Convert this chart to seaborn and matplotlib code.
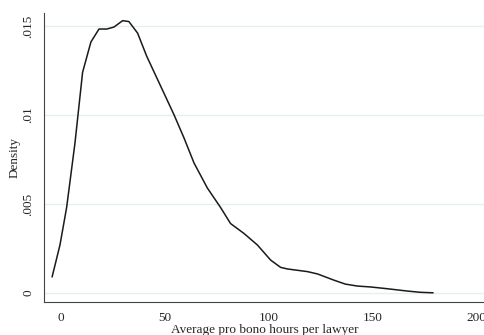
import numpy as np
import pandas as pd
import matplotlib
matplotlib.use("Agg")
import matplotlib.pyplot as plt
import seaborn as sns

# values
hours = [-4.3, -0.5, 2.7, 6.7, 10.4, 14.4, 18.3, 22.1, 25.5, 29.7, 32.7, 36.9,
         41.3, 48.1, 54.5, 59.3, 64.1, 70.5, 76.9, 81.7, 88.1, 94.6, 101.0,
         105.8, 109.1, 118.8, 123.6, 131.3, 137.0, 142.8, 149.0, 157.2, 166.8,
         173.0, 179.3]
density = [0.0009, 0.0027, 0.0048, 0.0084, 0.0124, 0.0141, 0.01483, 0.01483,
           0.01494, 0.0153, 0.01525, 0.0146, 0.0133, 0.0116, 0.0100, 0.0087,
           0.0073, 0.0059, 0.0048, 0.0039, 0.00335, 0.0027, 0.00185, 0.00144,
           0.00135, 0.0012, 0.00107, 0.00073, 0.0005, 0.00039, 0.00034,
           0.00024, 0.00011, 0.00004, 0.00001]
xticks = [0, 50, 100, 150, 200]
yticks = [0, 0.005, 0.01, 0.015]
ytick_labels = ["0", ".005", ".01", ".015"]

df = pd.DataFrame({"hours": hours, "density": density})

sns.set_style("white")
plt.rcParams["font.family"] = ["Liberation Serif", "DejaVu Serif"]

fig = plt.figure(figsize=(4.85, 3.35), dpi=100)
ax = fig.add_axes([44 / 485, 33 / 335, 441 / 485, 289 / 335])

sns.lineplot(data=df, x="hours", y="density", ax=ax, color="#1a1a1a",
             linewidth=1.1, sort=False)

ax.set_xlim(-8.2, 204.3)
ax.set_ylim(-0.000506, 0.01573)
ax.set_xticks(xticks)
ax.set_yticks(yticks)
ax.set_yticklabels(ytick_labels, rotation=90, va="center")
for yv in yticks:
    ax.axhline(yv, color="#e6efef", linewidth=1.0, zorder=0, xmax=0.995)

ax.tick_params(axis="both", direction="out", length=4, width=0.8,
               color="#444444", labelsize=9.5, pad=3)
ax.tick_params(axis="x", pad=3)
for side in ["top", "right"]:
    ax.spines[side].set_visible(False)
for side in ["left", "bottom"]:
    ax.spines[side].set_color("#444444")
    ax.spines[side].set_linewidth(0.8)

ax.set_xlabel("Average pro bono hours per lawyer", fontsize=9.5, labelpad=0)
ax.set_ylabel("Density", fontsize=9.5, labelpad=1)

fig.savefig("out.png", dpi=100)
